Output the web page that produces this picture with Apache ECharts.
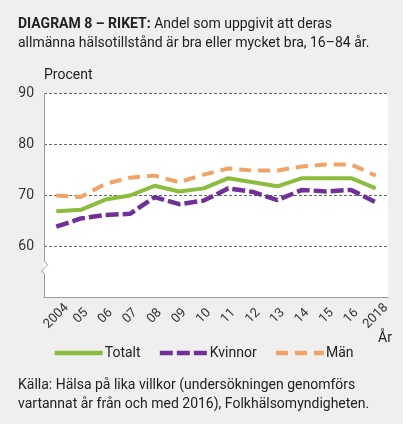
<!DOCTYPE html>
<html>
<head>
<meta charset="utf-8">
<script src="https://cdn.jsdelivr.net/npm/echarts@6/dist/echarts.min.js"></script>
<style>
  html, body { margin: 0; padding: 0; background: #fff; }
  #wrap { position: relative; width: 406px; height: 427px; }
  #panel { position: absolute; left: 0; top: 0; width: 403px; height: 424px; background: #efefef; }
  #chart { position: absolute; left: 0; top: 0; width: 406px; height: 427px; }
</style>
</head>
<body>
<div id="wrap">
  <div id="panel"></div>
  <div id="chart"></div>
</div>
<script>
// Andel med bra eller mycket bra hälsa, procent
const years = ['2004', '05', '06', '07', '08', '09', '10', '11', '12', '13', '14', '15', '16', '2018']
const totalt = [66.8, 67.1, 69.1, 69.9, 71.8, 70.7, 71.3, 73.3, 72.5, 71.7, 73.3, 73.3, 73.3, 71.3]
const kvinnor = [63.8, 65.4, 66.1, 66.3, 69.6, 68.2, 68.9, 71.3, 70.6, 69.0, 71.0, 70.7, 71.0, 68.6]
const man = [69.9, 69.6, 72.2, 73.4, 73.8, 72.5, 74.0, 75.2, 74.8, 74.8, 75.6, 76.0, 76.0, 73.8]
const yTicks = [50, 90, 10] // min, max, interval

const font = 'Roboto'
const textColor = '#222'
const axisColor = '#9a9a9a'

const chart = echarts.init(document.getElementById('chart'), null, { renderer: 'canvas' })

const option = {
  animation: false,
  backgroundColor: 'transparent',
  textStyle: { fontFamily: font },
  title: [
    {
      left: 18,
      top: 15,
      padding: 0,
      text: '{b|DIAGRAM 8 – RIKET:} Andel som uppgivit att deras\nallmänna hälsotillstånd är bra eller mycket bra, 16–84 år.',
      textStyle: {
        fontFamily: font,
        fontSize: 14,
        fontWeight: 'normal',
        color: textColor,
        lineHeight: 19,
        rich: {
          b: { fontFamily: font, fontSize: 14, fontWeight: 'bold', color: textColor, lineHeight: 19 }
        }
      }
    },
    {
      left: 18,
      top: 376,
      padding: 0,
      text: 'Källa: Hälsa på lika villkor (undersökningen genomförs\nvartannat år från och med 2016), Folkhälsomyndigheten.',
      textStyle: {
        fontFamily: font,
        fontSize: 14,
        fontWeight: 'normal',
        color: textColor,
        lineHeight: 19
      }
    }
  ],
  legend: {
    top: 346,
    left: 'center',
    padding: 0,
    itemWidth: 48,
    itemHeight: 12,
    itemGap: 17,
    itemStyle: { opacity: 0, borderWidth: 0 },
    lineStyle: { width: 4.5 },
    textStyle: { fontFamily: font, fontSize: 14, color: textColor, padding: [0, 0, 0, -3] },
    data: ['Totalt', 'Kvinnor', 'Män']
  },
  grid: {
    left: 44,
    right: 18,
    top: 93,
    bottom: 130,
    show: true,
    backgroundColor: '#fff',
    borderWidth: 0,
    containLabel: false
  },
  xAxis: {
    type: 'category',
    data: years,
    boundaryGap: true,
    axisLine: { show: true, lineStyle: { color: axisColor, width: 1 } },
    axisTick: { show: false },
    axisLabel: {
      rotate: 45,
      fontSize: 13,
      color: '#333',
      margin: 19,
      align: 'center',
      verticalAlign: 'middle',
      interval: 0
    }
  },
  yAxis: {
    type: 'value',
    min: yTicks[0],
    max: yTicks[1],
    interval: yTicks[2],
    name: 'Procent',
    nameLocation: 'end',
    nameGap: 11,
    nameTextStyle: { fontFamily: font, fontSize: 14, color: textColor, align: 'left' },
    axisLine: { show: false },
    axisTick: { show: false },
    axisLabel: {
      fontSize: 14,
      color: '#333',
      margin: 10,
      formatter: v => (v === yTicks[0] ? '' : v)
    },
    splitLine: {
      show: true,
      lineStyle: { color: '#666', type: [3, 2], width: 1 }
    }
  },
  series: [
    {
      name: 'Totalt',
      type: 'line',
      data: totalt,
      symbol: 'none',
      color: '#8bbd3c',
      lineStyle: { width: 4, color: '#8bbd3c' },
      z: 3
    },
    {
      name: 'Kvinnor',
      type: 'line',
      data: kvinnor,
      symbol: 'none',
      color: '#70309a',
      lineStyle: { width: 4.5, color: '#70309a', type: [13, 4] },
      z: 2
    },
    {
      name: 'Män',
      type: 'line',
      data: man,
      symbol: 'none',
      color: '#f4a263',
      lineStyle: { width: 4, color: '#f4a263', type: [12, 7] },
      z: 1
    }
  ]
}

chart.setOption(option)

// vänster axel med brytsymbol
function drawAxisBreak() {
  const top = chart.convertToPixel({ gridIndex: 0 }, [0, yTicks[1]])
  const bottom = chart.convertToPixel({ gridIndex: 0 }, [0, yTicks[0]])
  const x = option.grid.left + 0.5
  const yb = chart.convertToPixel({ gridIndex: 0 }, [0, 55.5])[1]
  chart.setOption({
    graphic: [
      {
        type: 'polyline',
        silent: true,
        z: 10,
        shape: {
          points: [
            [x, top[1]], [x, yb - 8], [x + 3, yb - 4], [x - 3, yb + 2], [x, yb + 5], [x, bottom[1]]
          ]
        },
        style: { stroke: axisColor, lineWidth: 1, fill: null }
      },
      {
        type: 'text',
        silent: true,
        right: 14,
        top: 331,
        style: { text: 'År', font: '14px ' + font, fill: textColor }
      }
    ]
  })
}
drawAxisBreak()
</script>
</body>
</html>
